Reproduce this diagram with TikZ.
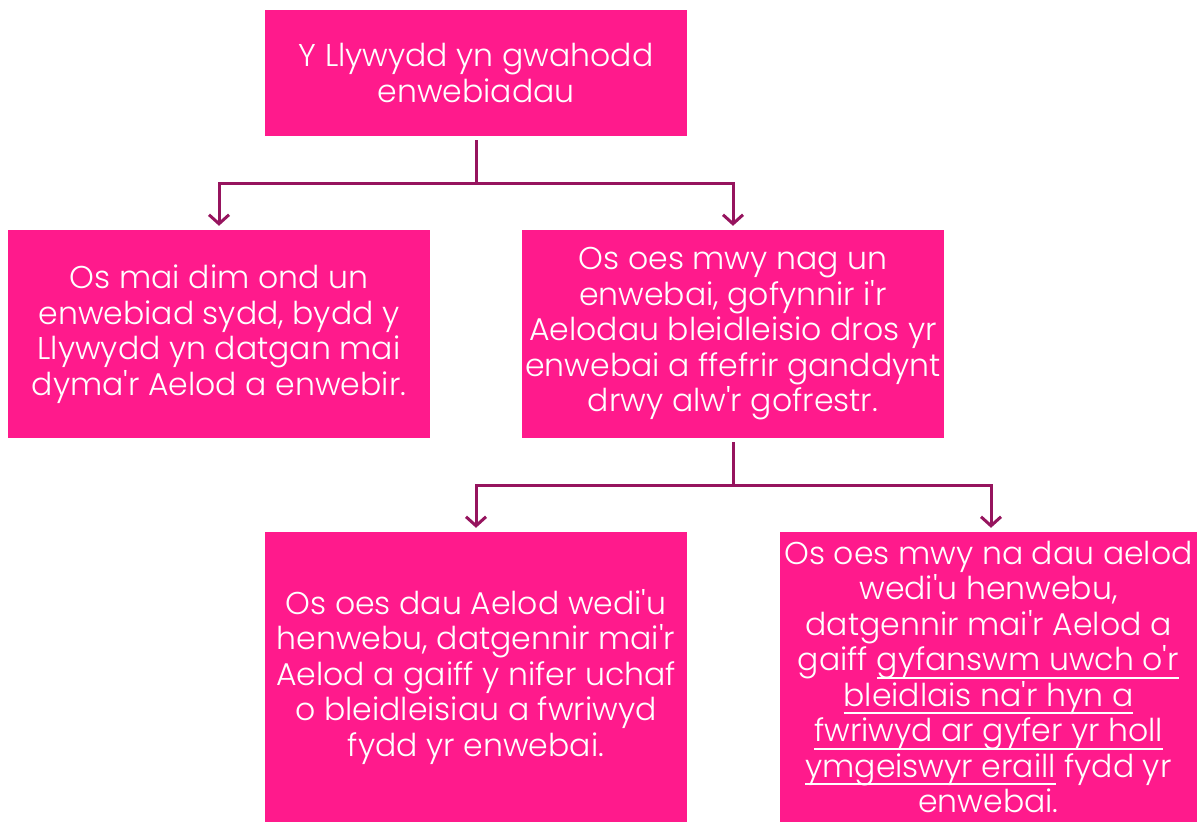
\documentclass[tikz,border=0pt]{standalone}
\usepackage{fontspec}
\setmainfont{Poppins Light}[Ligatures=TeXOff]
\usetikzlibrary{arrows.meta}
\definecolor{boxpink}{HTML}{FF1A8C}
\definecolor{linkplum}{HTML}{96145E}
\newcommand{\undl}[1]{\setbox0\hbox{#1}\rlap{\rule[-8pt]{\wd0}{1.8pt}}\box0\relax}

\begin{document}
\begin{tikzpicture}[x=1pt,y=1pt]
\tikzstyle{stepbox}=[fill=boxpink, text=white, align=center, inner sep=0pt, font=\fontsize{31.5}{35.5}\selectfont]
\tikzstyle{link}=[draw=linkplum, line width=3pt, -{Straight Barb[length=9pt,width=20pt]}, shorten <=4pt, shorten >=4pt]

\useasboundingbox (0,0) rectangle (1197,823);

\draw (476,750) node[stepbox, minimum width=422, minimum height=126] (invite) {Y Llywydd yn gwahodd\\enwebiadau};
\draw (219,489) node[stepbox, minimum width=422, minimum height=208] (single) {Os mai dim ond un\\enwebiad sydd, bydd y\\Llywydd yn datgan mai\\dyma'r Aelod a enwebir.};
\draw (733,489) node[stepbox, minimum width=422, minimum height=208] (vote) {Os oes mwy nag un\\enwebai, gofynnir i'r\\Aelodau bleidleisio dros yr\\enwebai a ffefrir ganddynt\\drwy alw'r gofrestr.};
\draw (476,146) node[stepbox, minimum width=422, minimum height=290] (two) {Os oes dau Aelod wedi'u\\henwebu, datgennir mai'r\\Aelod a gaiff y nifer uchaf\\o bleidleisiau a fwriwyd\\fydd yr enwebai.};
\draw (988.5,146) node[stepbox, minimum width=417, minimum height=290] (many) {Os oes mwy na dau aelod\\wedi'u henwebu,\\datgennir mai'r Aelod a\\gaiff \undl{gyfanswm uwch o'r}\\\undl{bleidlais na'r hyn a}\\\undl{fwriwyd ar gyfer yr holl}\\\undl{ymgeiswyr eraill} fydd yr\\enwebai.};

\draw[link] (invite.south) -- ++(0,-47) -| (single.north);
\draw[link] (invite.south) -- ++(0,-47) -| (vote.north);
\draw[link] (vote.south) -- ++(0,-47) -| (two.north);
\draw[link] (vote.south) -- ++(0,-47) -| ([xshift=2.5]many.north);
\end{tikzpicture}
\end{document}
